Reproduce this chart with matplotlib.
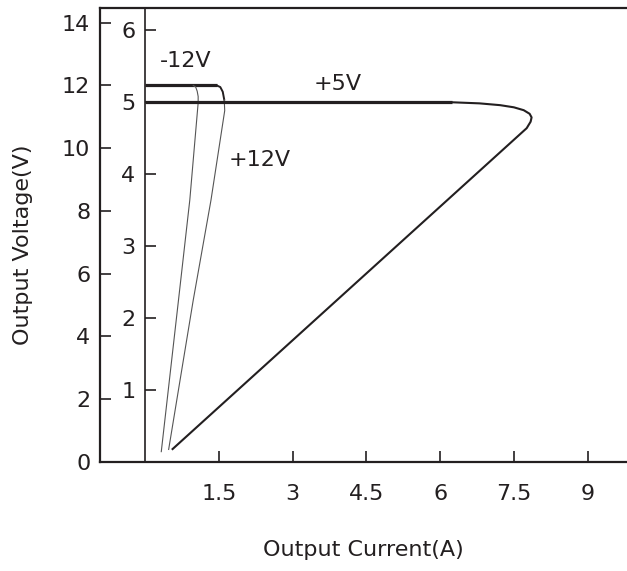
import matplotlib.pyplot as plt

# tick values
x_ticks = [1.5, 3, 4.5, 6, 7.5, 9]
y_outer_ticks = [0, 2, 4, 6, 8, 10, 12, 14]
y_inner_ticks = [1, 2, 3, 4, 5, 6]

# +12V and -12V curves, outer voltage scale (0-14 V)
plus12_i = [0, 1.46, 1.53, 1.58, 1.61, 1.62, 1.34, 0.98, 0.48]
plus12_v = [12.0, 12.0, 11.95, 11.8, 11.55, 11.2, 8.34, 5.16, 0.40]
minus12_i = [0.98, 1.03, 1.06, 1.08, 1.08, 0.91, 0.68, 0.33]
minus12_v = [12.0, 11.95, 11.82, 11.65, 11.45, 8.35, 5.16, 0.33]

# +5V curve, inner voltage scale (0-6 V)
plus5_i = [0, 6.24, 6.8, 7.22, 7.5, 7.7, 7.82, 7.86, 7.84, 7.76, 0.56]
plus5_v = [5.0, 5.0, 4.985, 4.96, 4.93, 4.89, 4.84, 4.79, 4.73, 4.64, 0.18]

# labels
curve_labels = ["-12V", "+12V", "+5V"]
label_pos = [(0.83, 12.78), (2.34, 9.62), (3.91, 12.05)]

ink = "#231f20"
fs = 16

fig = plt.figure(figsize=(6.27, 5.71), dpi=100)
ax = fig.add_axes([100 / 627, 109 / 571, 527 / 627, 454 / 571])

ax.set_xlim(-0.916, 9.80)
ax.set_ylim(0, 14.47)
ax.spines["right"].set_visible(False)
for s in ["left", "bottom", "top"]:
    ax.spines[s].set_linewidth(1.6)
    ax.spines[s].set_color(ink)

ax.set_xticks(x_ticks)
ax.set_xticklabels([f"{t:g}" for t in x_ticks])
ax.set_yticks(y_outer_ticks)
ax.tick_params(axis="both", direction="in", length=8, width=1.2, colors=ink,
               labelsize=fs, labelcolor=ink)
ax.tick_params(axis="x", pad=16)
ax.tick_params(axis="y", pad=7)

# inner voltage axis sitting at I = 0
ax2 = ax.twinx()
ax2.set_ylim(0, 14.47 / 2.293)
for s in ["right", "top", "bottom"]:
    ax2.spines[s].set_visible(False)
ax2.spines["left"].set_position(("data", 0))
ax2.spines["left"].set_linewidth(1.2)
ax2.spines["left"].set_color(ink)
ax2.yaxis.set_ticks_position("left")
ax2.yaxis.set_label_position("left")
ax2.set_yticks(y_inner_ticks)
ax2.tick_params(axis="y", direction="in", length=8, width=1.2, colors=ink,
                labelsize=fs, labelcolor=ink, pad=7)

# +-12V curves
ax.plot(plus12_i[:2], plus12_v[:2], color=ink, lw=2.3, solid_capstyle="butt")
ax.plot(plus12_i[1:5], plus12_v[1:5], color=ink, lw=1.4)
ax.plot(plus12_i[4:], plus12_v[4:], color="#555555", lw=0.8)
ax.plot(minus12_i, minus12_v, color="#555555", lw=0.8)

# +5V curve
ax2.plot(plus5_i[:2], plus5_v[:2], color=ink, lw=2.3, solid_capstyle="butt")
ax2.plot(plus5_i[1:], plus5_v[1:], color=ink, lw=1.5)

for txt, (xx, yy) in zip(curve_labels, label_pos):
    ax.text(xx, yy, txt, fontsize=fs, color=ink, ha="center", va="center")

ax.set_xlabel("Output Current(A)", fontsize=fs, color=ink)
ax.set_ylabel("Output Voltage(V)", fontsize=fs, color=ink)
ax.xaxis.set_label_coords(0.5, -0.172)
ax.yaxis.set_label_coords(-0.127, 0.478)

fig.savefig("out.png", dpi=100)
